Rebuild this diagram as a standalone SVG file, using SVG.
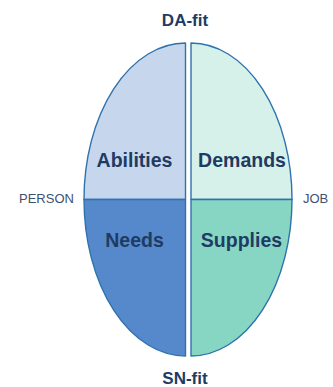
<svg xmlns="http://www.w3.org/2000/svg" width="333" height="387" viewBox="0 0 333 387">
<style>
.q{stroke:#2E72AE;stroke-width:1.4;stroke-linejoin:round}
.lbl{font-family:"Liberation Sans",Arial,sans-serif;font-weight:bold;fill:#1F3B63;text-anchor:middle;font-size:19.5px;font-variant-ligatures:none}
.fit{font-size:17px}
.side{font-family:"Liberation Sans",Arial,sans-serif;fill:#3E5170;font-size:13px}
</style>
<rect width="333" height="387" fill="#ffffff"/>
<g id="abilities">
<path class="q" fill="#C6D7ED" d="M185.5,199.5 L84,199.5 A101.5,156.5 0 0 1 185.5,43 Z"/>
<text class="lbl" x="134.5" y="167">Abilities</text>
</g>
<g id="needs">
<path class="q" fill="#5589CB" d="M185.5,199.5 L185.5,356 A101.5,156.5 0 0 1 84,199.5 Z"/>
<text class="lbl" x="134.5" y="247">Needs</text>
</g>
<g id="demands">
<path class="q" fill="#D6F1E9" d="M191,199.5 L191,43 A101,156.5 0 0 1 292,199.5 Z"/>
<text class="lbl" x="242" y="167">Demands</text>
</g>
<g id="supplies">
<path class="q" fill="#87D6C4" d="M191,199.5 L292,199.5 A101,156.5 0 0 1 191,356 Z"/>
<text class="lbl" x="241.5" y="247">Supplies</text>
</g>
<g id="da-fit"><text class="lbl fit" x="185" y="26">DA-fit</text></g>
<g id="sn-fit"><text class="lbl fit" x="185" y="384">SN-fit</text></g>
<g id="person"><text class="side" x="19" y="203">PERSON</text></g>
<g id="job"><text class="side" x="303" y="203">JOB</text></g>
<g id="connectors"></g>
</svg>
